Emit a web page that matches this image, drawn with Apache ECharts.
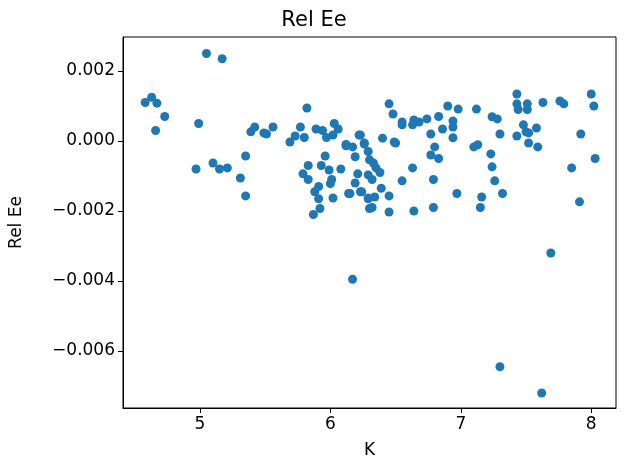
<!DOCTYPE html>
<html>
<head>
<meta charset="utf-8">
<script src="https://cdn.jsdelivr.net/npm/echarts@6/dist/echarts.min.js"></script>
<style>html,body{margin:0;padding:0;background:#fff}</style>
</head>
<body>
<div id="chart" style="width:628px;height:472px"></div>
<script>
// K values and Rel Ee values
var kVals = [4.58,4.63,4.67,4.66,4.73,4.99,5.05,5.17,4.97,5.10,5.15,5.21,5.31,5.35,5.35,5.39,5.42,5.49,5.51,5.56,
  5.69,5.73,5.77,5.82,5.80,5.89,5.94,5.97,6.02,6.03,6.06,5.79,5.83,5.83,5.96,5.93,5.99,6.01,6.00,6.08,
  5.91,5.88,5.91,5.92,5.87,6.02,6.15,6.23,6.23,6.26,6.12,6.17,6.19,6.29,6.30,6.19,6.21,
  6.22,6.26,6.12,6.29,6.30,6.33,6.35,6.38,6.29,6.32,6.24,6.29,6.34,6.32,6.39,6.45,6.45,6.14,
  6.45,6.48,6.40,6.49,6.50,6.55,6.55,6.63,6.64,6.68,6.74,6.63,6.55,6.64,6.77,6.80,6.77,6.83,6.79,6.79,
  6.83,6.90,6.98,6.94,6.94,6.86,6.94,6.97,
  7.43,7.43,7.51,7.44,7.51,7.63,7.76,7.79,8.00,8.02,7.48,7.50,7.52,7.58,7.43,7.52,7.59,7.92,8.03,7.85,7.91,
  7.12,7.24,7.28,7.30,7.10,7.13,7.23,7.24,7.26,7.32,7.16,7.15,
  6.17,7.30,7.62,7.69];
var relEe = [0.0011,0.00125,0.00108,0.0003,0.0007,0.0005,0.0025,0.00235,-0.0008,-0.00063,-0.0008,-0.00077,-0.00106,-0.00043,-0.00157,0.00026,0.0004,0.00023,0.0002,0.0004,
  -0.00003,0.00014,0.0004,0.00094,0.0001,0.00034,0.0003,0.0001,0.00017,0.0005,0.00034,-0.00094,-0.0007,-0.0011,-0.00043,-0.0007,-0.00083,-0.0011,-0.00122,-0.0008,
  -0.0013,-0.00145,-0.00165,-0.00193,-0.0021,-0.00163,-0.0015,-0.00145,0.00017,-0.00009,-0.00014,-0.00017,-0.00045,-0.00165,-0.00193,-0.0012,-0.00094,
  0.00017,-0.00006,-0.0001,-0.0003,-0.00054,-0.00063,-0.00077,-0.0009,-0.00097,-0.0011,-0.00145,-0.00163,-0.0016,-0.0019,-0.00135,-0.00157,-0.00203,-0.0015,
  0.00106,0.00077,0.00008,-0.00003,-0.00006,0.00054,0.00046,0.00046,0.0006,0.00054,0.00063,-0.00077,-0.00114,-0.002,0.0002,-0.00017,-0.0004,-0.0005,-0.0011,-0.0019,
  0.0007,0.001,0.00091,0.00057,0.0004,0.00034,0.00009,-0.0015,
  0.00134,0.00106,0.00106,0.0009,0.0009,0.0011,0.00114,0.00106,0.00134,0.001,0.00046,0.00026,0.00023,0.00037,0.00014,-0.00006,-0.00017,0.0002,-0.0005,-0.00077,-0.00174,
  0.00091,0.00069,0.00063,0.0002,-0.00017,-0.00011,-0.00037,-0.00074,-0.00114,-0.0015,-0.0016,-0.0019,
  -0.00395,-0.00645,-0.0072,-0.0032];
var xTicks = [5, 6, 7, 8];
var yTicks = [-0.006, -0.004, -0.002, 0, 0.002];

var points = kVals.map(function (k, i) { return [k, relEe[i]]; });
var font = 'DejaVu Sans';
var chart = echarts.init(document.getElementById('chart'));
chart.setOption({
    animation: false,
    title: {
        text: 'Rel Ee', left: 'center', top: 5,
        textStyle: {fontFamily: font, fontSize: 21, fontWeight: 'normal', color: '#000'}
    },
    grid: {left: 123, right: 12, top: 37, bottom: 64, show: true, borderColor: '#000', borderWidth: 1},
    xAxis: {
        type: 'value', min: 4.41, max: 8.19,
        name: 'K', nameLocation: 'middle', nameGap: 34,
        nameTextStyle: {fontFamily: font, fontSize: 17, color: '#000'},
        splitLine: {show: false},
        axisLine: {show: true, onZero: false, lineStyle: {color: '#000'}},
        axisTick: {show: true, inside: false, length: 5, customValues: xTicks, lineStyle: {color: '#000'}},
        axisLabel: {fontFamily: font, fontSize: 17, color: '#000', margin: 8, customValues: xTicks}
    },
    yAxis: {
        type: 'value', min: -0.00763, max: 0.00297,
        name: 'Rel Ee', nameLocation: 'middle', nameGap: 98,
        nameTextStyle: {fontFamily: font, fontSize: 17, color: '#000'},
        splitLine: {show: false},
        axisLine: {show: true, onZero: false, lineStyle: {color: '#000'}},
        axisTick: {show: true, inside: false, length: 5, customValues: yTicks, lineStyle: {color: '#000'}},
        axisLabel: {
            fontFamily: font, fontSize: 17, color: '#000', margin: 8, customValues: yTicks,
            formatter: function (v) { return (v < 0 ? '\u2212' : '') + Math.abs(v).toFixed(3); }
        }
    },
    series: [{
        type: 'scatter', data: points, symbolSize: 9,
        itemStyle: {color: '#1f77b4', opacity: 1}
    }]
});
</script>
</body>
</html>
